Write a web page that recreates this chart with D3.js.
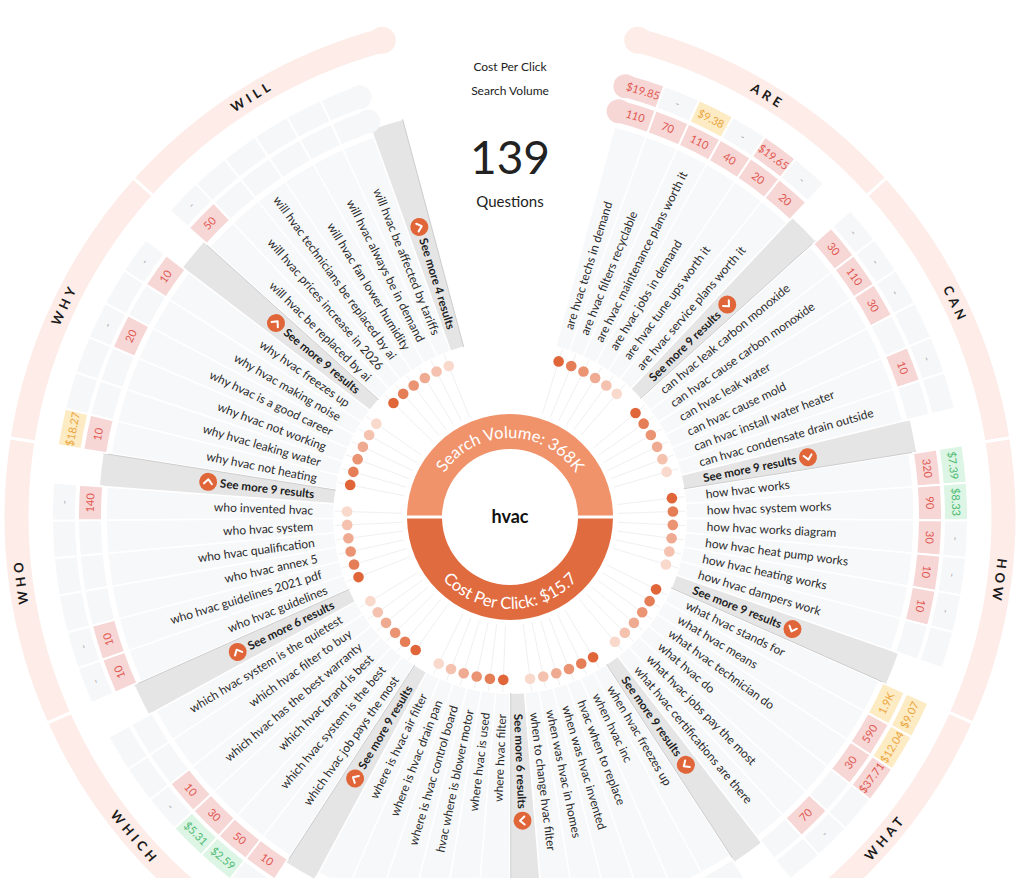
<!DOCTYPE html>
<html>
<head>
<meta charset="utf-8">
<script src="https://cdn.jsdelivr.net/npm/d3@7"></script>
<style>
  html, body { margin: 0; padding: 0; background: #fff; }
  svg { display: block; font-family: Lato, "Open Sans", sans-serif; }
</style>
</head>
<body>
<svg id="chart" width="1024" height="878"></svg>
<script>
// ---- data (clockwise from 12 o'clock) ----
var keyword = "hvac";
var totalQuestions = 139;
var totalVolume = "368K";
var totalCpc = 15.7;
var legendItems = ["Cost Per Click", "Search Volume"];

var categories = ["are", "can", "how", "what", "when", "where", "which", "who", "why", "will"];
var moreCounts = [9, 9, 9, 9, 6, 9, 6, 9, 9, 4];

var questions = [
  ["are hvac techs in demand", "are hvac filters recyclable", "are hvac maintenance plans worth it",
   "are hvac jobs in demand", "are hvac tune ups worth it", "are hvac service plans worth it"],
  ["can hvac leak carbon monoxide", "can hvac cause carbon monoxide", "can hvac leak water",
   "can hvac cause mold", "can hvac install water heater", "can hvac condensate drain outside"],
  ["how hvac works", "how hvac system works", "how hvac works diagram",
   "how hvac heat pump works", "how hvac heating works", "how hvac dampers work"],
  ["what hvac stands for", "what hvac means", "what hvac technician do",
   "what hvac do", "what hvac jobs pay the most", "what hvac certifications are there"],
  ["when hvac freezes up", "when hvac inc", "hvac when to replace",
   "when was hvac invented", "when was hvac in homes", "when to change hvac filter"],
  ["where hvac filter", "where hvac is used", "hvac where is blower motor",
   "where is hvac control board", "where is hvac drain pan", "where is hvac air filter"],
  ["which hvac job pays the most", "which hvac system is the best", "which hvac brand is best",
   "which hvac has the best warranty", "which hvac filter to buy", "which hvac system is the quietest"],
  ["who hvac guidelines", "who hvac guidelines 2021 pdf", "who hvac annex 5",
   "who hvac qualification", "who hvac system", "who invented hvac"],
  ["why hvac not heating", "why hvac leaking water", "why hvac not working",
   "why hvac is a good career", "why hvac making noise", "why hvac freezes up"],
  ["will hvac be replaced by ai", "will hvac prices increase in 2026", "will hvac technicians be replaced by ai",
   "will hvac fan lower humidity", "will hvac always be in demand", "will hvac be affected by tariffs"]
];

// search volume per question (null = no data)
var volumes = [
  [110, 70, 110, 40, 20, 20],
  [30, 110, 30, null, 10, null],
  [320, 90, 30, 10, 10, null],
  [1900, 590, 30, null, 70, null],
  [null, null, null, null, null, null],
  [null, null, null, null, null, null],
  [10, 50, 30, 10, null, null],
  [10, 10, null, null, null, 140],
  [10, null, null, 20, null, 10],
  [50, null, null, null, null, null]
];

// cost per click per question (null = "-")
var cpcs = [
  [19.85, null, 9.38, null, 19.65, null],
  [null, null, null, null, null, null],
  [7.39, 8.33, null, null, null, null],
  [9.07, 12.04, 37.71, null, null, null],
  [null, null, null, null, null, null],
  [null, null, null, null, null, null],
  [null, 2.59, 5.31, null, null, null],
  [null, null, null, null, null, null],
  [18.27, null, null, null, null, null],
  [null, null, null, null, null, null]
];

// ---- layout ----
var cx = 510, cy = 517;
var R = {
  donutIn: 68, donutOut: 103, spokeIn: 108, dot: 163, wedgeIn: 176, text: 197,
  wedgeOut: 404, barOut: 412, volIn: 408, volOut: 432, cpcIn: 434, cpcOut: 458,
  ringIn: 480, ringOut: 507
};
var rad = Math.PI / 180;
var toDeg = function(a) { return a / rad; };

var svg = d3.select("#chart");
var g = svg.append("g").attr("transform", "translate(" + cx + "," + cy + ")");

var slotIds = [];
categories.forEach(function(c) {
  d3.range(7).forEach(function(j) { slotIds.push(c + ":" + j); });
});

var angle = d3.scaleBand().domain(slotIds).range([15 * rad, 345 * rad]);
var bw = angle.bandwidth();

var slots = [];
categories.forEach(function(c, k) {
  d3.range(7).forEach(function(j) {
    var a0 = angle(c + ":" + j);
    slots.push({
      cat: c, k: k, j: j,
      q: j < 6 ? questions[k][j] : null,
      vol: j < 6 ? volumes[k][j] : null,
      cpc: j < 6 ? cpcs[k][j] : null,
      more: moreCounts[k],
      a0: a0, a1: a0 + bw, mid: a0 + bw / 2
    });
  });
});
var qSlots = slots.filter(function(d) { return d.j < 6; });
var barSlots = slots.filter(function(d) { return d.j === 6; });

var isLeft = function(d) { return d.mid > Math.PI; };
var polar = function(r, a) { return [r * Math.sin(a), -r * Math.cos(a)]; };

var arc = d3.arc();

// colour helpers
var dotColor = d3.scaleLinear().domain([0, 5]).range(["#e0663a", "#f9d9cc"]);
var palette = {
  pink: { bg: "#f7d6d6", fg: "#e0574f" },
  yellow: { bg: "#fdebc4", fg: "#eba53b" },
  green: { bg: "#dcf5e4", fg: "#4dba72" },
  blank: { bg: "#f6f7f9", fg: "#aaaaaa" }
};
var volStyle = function(v) {
  if (v == null) return palette.blank;
  return v >= 1000 ? palette.yellow : palette.pink;
};
var cpcStyle = function(d) {
  if (d.vol == null || d.cpc == null) return palette.blank;
  if (d.cpc < 9) return palette.green;
  if (d.cpc < 19) return palette.yellow;
  return palette.pink;
};
var volText = function(v) {
  if (v == null) return "";
  return v >= 1000 ? (v / 1000).toFixed(1).replace(/\.0$/, "") + "K" : String(v);
};
var cpcText = function(d) {
  if (d.vol == null) return "";
  return d.cpc == null ? "-" : "$" + d.cpc.toFixed(2);
};

// ---- spokes and dots ----
g.append("g").selectAll("line").data(qSlots).join("line")
  .attr("x1", function(d) { return polar(R.spokeIn, d.mid)[0]; })
  .attr("y1", function(d) { return polar(R.spokeIn, d.mid)[1]; })
  .attr("x2", function(d) { return polar(R.wedgeIn, d.mid)[0]; })
  .attr("y2", function(d) { return polar(R.wedgeIn, d.mid)[1]; })
  .attr("stroke", "#f0f0f0").attr("stroke-width", 1);

g.append("g").selectAll("circle").data(qSlots).join("circle")
  .attr("cx", function(d) { return polar(R.dot, d.mid)[0]; })
  .attr("cy", function(d) { return polar(R.dot, d.mid)[1]; })
  .attr("r", 5.3)
  .attr("fill", function(d) { return dotColor(d.j); });

// ---- question wedges and "see more" bars ----
g.append("g").selectAll("path").data(slots).join("path")
  .attr("d", function(d) {
    return arc({ innerRadius: R.wedgeIn, outerRadius: d.j < 6 ? R.wedgeOut : R.barOut,
                 startAngle: d.a0, endAngle: d.a1 });
  })
  .attr("fill", function(d) { return d.j < 6 ? "#f7f8fa" : "#e5e5e5"; })
  .attr("stroke", "#fff").attr("stroke-width", 1.5);

// darker edge on the clockwise side of each bar
g.append("g").selectAll("line").data(barSlots).join("line")
  .attr("x1", function(d) { return polar(R.wedgeIn, d.a1 - 0.004)[0]; })
  .attr("y1", function(d) { return polar(R.wedgeIn, d.a1 - 0.004)[1]; })
  .attr("x2", function(d) { return polar(R.barOut, d.a1 - 0.002)[0]; })
  .attr("y2", function(d) { return polar(R.barOut, d.a1 - 0.002)[1]; })
  .attr("stroke", "#cdcdcd").attr("stroke-width", 1);

// ---- volume / cpc cells ----
var cellG = g.append("g");
cellG.selectAll(".vol").data(qSlots).join("path").attr("class", "vol")
  .attr("d", function(d) {
    return arc({ innerRadius: R.volIn, outerRadius: R.volOut, startAngle: d.a0, endAngle: d.a1 });
  })
  .attr("fill", function(d) { return volStyle(d.vol).bg; })
  .attr("stroke", "#fff").attr("stroke-width", 2);
cellG.selectAll(".cpc").data(qSlots).join("path").attr("class", "cpc")
  .attr("d", function(d) {
    return arc({ innerRadius: R.cpcIn, outerRadius: R.cpcOut, startAngle: d.a0, endAngle: d.a1 });
  })
  .attr("fill", function(d) { return cpcStyle(d).bg; })
  .attr("stroke", "#fff").attr("stroke-width", 2);

// rounded caps where the rows meet the gap at the top
var firstSlot = qSlots[0], lastSlot = qSlots[qSlots.length - 1];
[[firstSlot, firstSlot.a0], [lastSlot, lastSlot.a1]].forEach(function(p) {
  var d = p[0], a = p[1];
  var rv = (R.volIn + R.volOut) / 2, rc = (R.cpcIn + R.cpcOut) / 2;
  cellG.append("circle").attr("cx", polar(rv, a)[0]).attr("cy", polar(rv, a)[1])
    .attr("r", (R.volOut - R.volIn) / 2).attr("fill", volStyle(d.vol).bg);
  cellG.append("circle").attr("cx", polar(rc, a)[0]).attr("cy", polar(rc, a)[1])
    .attr("r", (R.cpcOut - R.cpcIn) / 2).attr("fill", cpcStyle(d).bg);
});

// flip text on the bottom of the wheel so it stays readable
var blockMid = function(k) { return (angle(categories[k] + ":0") + angle(categories[k] + ":6") + bw) / 2; };
var flipped = function(k) { var m = toDeg(blockMid(k)); return m > 110 && m < 250; };
var tangentTransform = function(r, a, flip) {
  return "rotate(" + (toDeg(a) - 90) + ") translate(" + r + ",0) rotate(" + (flip ? -90 : 90) + ")";
};

cellG.selectAll(".volt").data(qSlots).join("text").attr("class", "volt")
  .attr("transform", function(d) { return tangentTransform((R.volIn + R.volOut) / 2, d.mid, flipped(d.k)); })
  .attr("text-anchor", "middle").attr("dy", "0.35em")
  .attr("font-size", 11)
  .attr("fill", function(d) { return volStyle(d.vol).fg; })
  .text(function(d) { return volText(d.vol); });
cellG.selectAll(".cpct").data(qSlots).join("text").attr("class", "cpct")
  .attr("transform", function(d) { return tangentTransform((R.cpcIn + R.cpcOut) / 2, d.mid, flipped(d.k)); })
  .attr("text-anchor", "middle").attr("dy", "0.35em")
  .attr("font-size", 11)
  .attr("fill", function(d) { return cpcStyle(d).fg; })
  .text(function(d) { return cpcText(d); });

// ---- question labels ----
g.append("g").selectAll("text").data(qSlots).join("text")
  .attr("transform", function(d) { return "rotate(" + (toDeg(d.mid) + (isLeft(d) ? 90 : -90)) + ")"; })
  .attr("x", function(d) { return isLeft(d) ? -R.text : R.text; })
  .attr("dy", "0.35em")
  .attr("text-anchor", function(d) { return isLeft(d) ? "end" : "start"; })
  .attr("font-size", 12).attr("fill", "#2b2b2b")
  .text(function(d) { return d.q; });

// ---- "see more" labels with chevron buttons ----
var barG = g.append("g").selectAll("g").data(barSlots).join("g")
  .attr("transform", function(d) { return "rotate(" + (toDeg(d.mid) + (isLeft(d) ? 90 : -90)) + ")"; });
barG.append("text")
  .attr("x", function(d) { return isLeft(d) ? -R.text : R.text; })
  .attr("dy", "0.35em")
  .attr("text-anchor", function(d) { return isLeft(d) ? "end" : "start"; })
  .attr("font-size", 11.6).attr("font-weight", 700).attr("fill", "#1e1e1e")
  .text(function(d) { return "See more " + d.more + " results"; });
barG.each(function(d) {
  var sel = d3.select(this);
  var w = sel.select("text").node().getComputedTextLength();
  var x = (R.text + w + 12) * (isLeft(d) ? -1 : 1);
  sel.append("circle").attr("cx", x).attr("cy", 0).attr("r", 9).attr("fill", "#e0663a");
  sel.append("path")
    .attr("d", isLeft(d)
      ? "M" + (x - 4) + ",2 L" + x + ",-2.5 L" + (x + 4) + ",2"
      : "M" + (x - 4) + ",-2 L" + x + ",2.5 L" + (x + 4) + ",-2")
    .attr("fill", "none").attr("stroke", "#fff").attr("stroke-width", 2)
    .attr("stroke-linecap", "round").attr("stroke-linejoin", "round");
});

// ---- outer category ring ----
var ringG = g.append("g");
var ringMid = (R.ringIn + R.ringOut) / 2;
ringG.selectAll("path").data(categories).join("path")
  .attr("d", function(c) {
    return arc({ innerRadius: R.ringIn, outerRadius: R.ringOut,
                 startAngle: angle(c + ":0"), endAngle: angle(c + ":6") + bw });
  })
  .attr("fill", "#fdece7").attr("stroke", "#fff").attr("stroke-width", 3);
[angle(categories[0] + ":0"), angle(categories[categories.length - 1] + ":6") + bw].forEach(function(a) {
  ringG.append("circle").attr("cx", polar(ringMid, a)[0]).attr("cy", polar(ringMid, a)[1])
    .attr("r", (R.ringOut - R.ringIn) / 2).attr("fill", "#fdece7");
});
ringG.selectAll("text").data(categories).join("text")
  .attr("transform", function(c, k) { return tangentTransform(ringMid, blockMid(k), flipped(k)); })
  .attr("text-anchor", "middle").attr("dy", "0.35em")
  .attr("font-size", 13).attr("font-weight", 700).attr("letter-spacing", 4).attr("fill", "#1a1a1a")
  .text(function(c) { return c.toUpperCase(); });

// ---- centre donut ----
var donut = d3.arc().innerRadius(R.donutIn).outerRadius(R.donutOut).padRadius(100);
g.append("path")
  .attr("d", donut({ startAngle: -Math.PI / 2, endAngle: Math.PI / 2, padAngle: 0.03 }))
  .attr("fill", "#f0936b");
g.append("path")
  .attr("d", donut({ startAngle: Math.PI / 2, endAngle: 3 * Math.PI / 2, padAngle: 0.03 }))
  .attr("fill", "#e06b3f");

var defs = svg.append("defs");
var rTop = 79, rBot = 92;
defs.append("path").attr("id", "topArc")
  .attr("d", "M" + (-rTop) + ",0 A" + rTop + "," + rTop + " 0 0 1 " + rTop + ",0");
defs.append("path").attr("id", "botArc")
  .attr("d", "M" + (-rBot) + ",0 A" + rBot + "," + rBot + " 0 0 0 " + rBot + ",0");

g.append("text").attr("font-size", 16.5).attr("fill", "#fff")
  .append("textPath").attr("href", "#topArc").attr("startOffset", "50%").attr("text-anchor", "middle")
  .text("Search Volume: " + totalVolume);
g.append("text").attr("font-size", 16.5).attr("fill", "#fff")
  .append("textPath").attr("href", "#botArc").attr("startOffset", "50%").attr("text-anchor", "middle")
  .text("Cost Per Click: $" + totalCpc);

g.append("text").attr("text-anchor", "middle").attr("dy", "0.35em")
  .attr("font-size", 18).attr("font-weight", 700).attr("fill", "#111")
  .text(keyword);

// ---- header ----
var head = svg.append("g").attr("text-anchor", "middle").attr("fill", "#222");
head.selectAll(".legend").data(legendItems).join("text").attr("class", "legend")
  .attr("x", cx).attr("y", function(d, i) { return 71 + i * 24; })
  .attr("font-size", 12).text(function(d) { return d; });
head.append("text").attr("x", cx).attr("y", 174)
  .attr("font-size", 46).attr("font-weight", 400).text(totalQuestions);
head.append("text").attr("x", cx).attr("y", 207)
  .attr("font-size", 15).text("Questions");
</script>
</body>
</html>
